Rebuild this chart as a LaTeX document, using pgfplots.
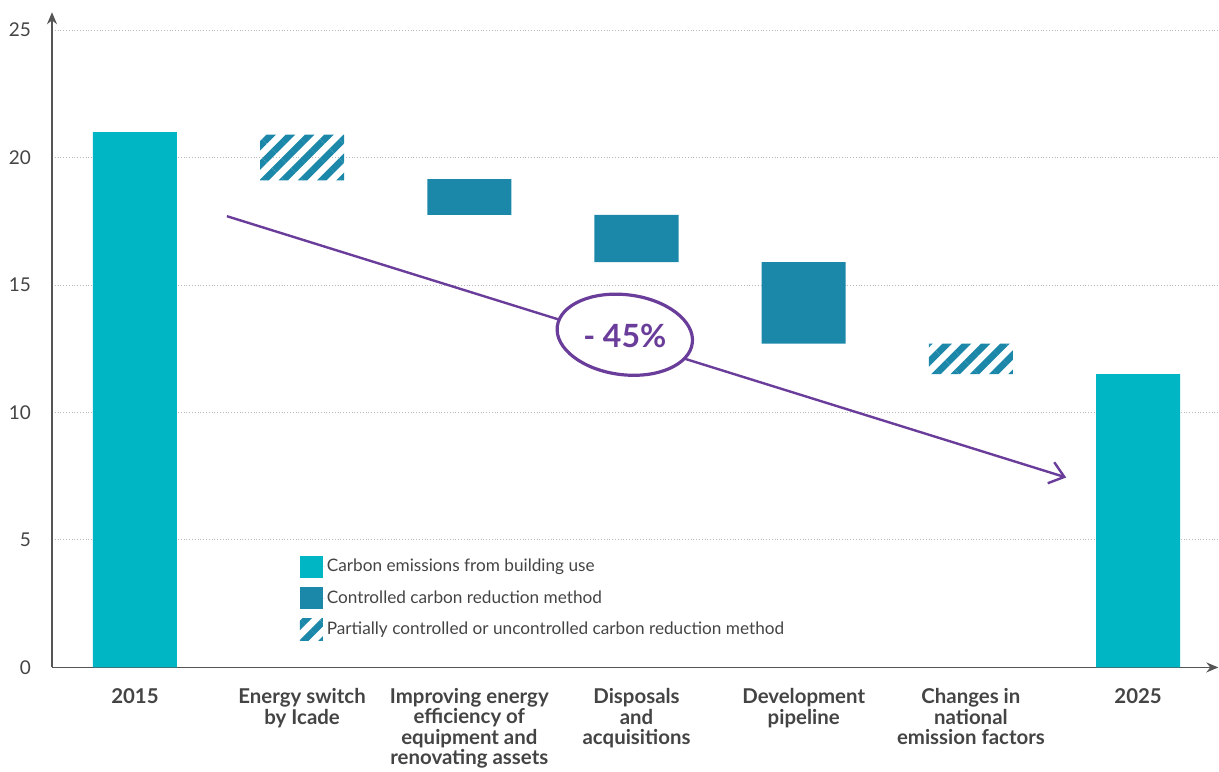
\documentclass[border=0pt]{standalone}
\usepackage{pgfplots}
\pgfplotsset{compat=1.18}
\usepackage{fontspec}
\setmainfont{Lato}
\usetikzlibrary{patterns.meta,arrows.meta,shapes.geometric}
\definecolor{lteal}{HTML}{00B5C4}
\definecolor{dteal}{HTML}{1B88AA}
\definecolor{purp}{HTML}{6A3D9A}
\definecolor{axgray}{HTML}{555555}
\definecolor{txtgray}{HTML}{444444}
\begin{document}
\begin{tikzpicture}
\begin{axis}[
  scale only axis,
  width=583pt, height=327.5pt,
  ybar stacked, bar width=42pt,
  xmin=-0.496, xmax=6.48,
  ymin=0, ymax=25.7,
  axis lines=left,
  axis line style={draw=axgray, line width=0.7pt, -{Stealth[length=6pt,width=5pt]}},
  ytick={0,5,10,15,20,25},
  xtick={0,1,2,3,4,5,6},
  xticklabels={2015,Energy switch\\by Icade,Improving energy\\efficiency of\\equipment and\\renovating assets,Disposals\\and\\acquisitions,Development\\pipeline,Changes in\\national\\emission factors,2025},
  xticklabel style={font=\fontsize{10.2}{10.2}\selectfont\bfseries, text=txtgray, align=center, inner sep=0pt, yshift=-10.3pt},
  yticklabel style={font=\fontsize{9.5}{11}\selectfont, text=txtgray, xshift=-7pt},
  /pgf/number format/assume math mode=true,
  major tick length=0pt,
  ymajorgrids,
  major grid style={densely dotted, gray!55, line width=0.5pt},
  legend style={at={(0.207,0.177)}, anchor=north west, draw=none, fill=none,
    font=\fontsize{8.6}{10}\selectfont, text=txtgray, row sep=4.7pt,
    nodes={inner sep=1pt}},
  legend cell align=left,
  legend image code/.code={\path[#1, draw=none] (0pt,-5.5pt) rectangle (11.5pt,5.5pt); \path (0pt,0pt) -- (12.5pt,0pt);},
]
% invisible bases
\addplot[fill=none, draw=none, forget plot] coordinates {(0,0) (1,19.1) (2,17.75) (3,15.9) (4,12.7) (5,11.5) (6,0)};
% building use
\addplot[fill=lteal, draw=none] coordinates {(0,21) (1,0) (2,0) (3,0) (4,0) (5,0) (6,11.5)};
% controlled
\addplot[fill=dteal, draw=none] coordinates {(0,0) (1,0) (2,1.4) (3,1.85) (4,3.2) (5,0) (6,0)};
% partially controlled
\addplot[draw=none, pattern={Lines[angle=45,distance=6.8pt,line width=3.4pt]}, pattern color=dteal] coordinates {(0,0) (1,1.8) (2,0) (3,0) (4,0) (5,1.2) (6,0)};
\legend{Carbon emissions from building use, Controlled carbon reduction method, Partially controlled or uncontrolled carbon reduction method}
\coordinate (A) at (axis cs:0.55,17.7);
\coordinate (B) at (axis cs:5.57,7.45);
\coordinate (C) at (axis cs:2.93,13.05);
\coordinate (BL) at (axis cs:-0.807,-4.08);
\coordinate (TR) at (axis cs:6.484,26.18);
\end{axis}
% trend arrow
\draw[purp, line width=1.2pt, -{Straight Barb[length=7pt,width=11pt]}] (A) -- (B);
\node[draw=purp, fill=white, line width=1.6pt, ellipse, rotate=-7, minimum width=68pt, minimum height=40pt, inner sep=0pt] at (C) {};
\node[font=\fontsize{16}{17}\selectfont\bfseries] at ([yshift=-0.5pt]C) {\color{purp}- 45\%};
\pgfresetboundingbox
\path[use as bounding box] (BL) rectangle (TR);
\end{tikzpicture}
\end{document}
